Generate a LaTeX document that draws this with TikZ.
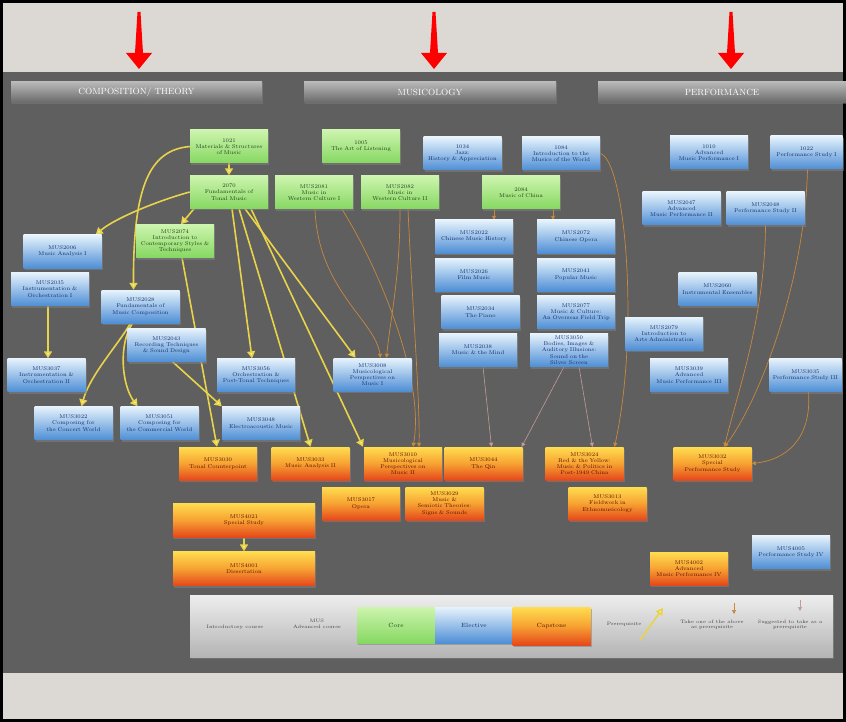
\documentclass[tikz,border=0pt]{standalone}
\usepackage{tikz}
\usetikzlibrary{arrows.meta,shadows}

\definecolor{bandgray}{HTML}{DCD9D4}
\definecolor{boardgray}{HTML}{5F5F5F}
\definecolor{coretop}{HTML}{CDF4AE}
\definecolor{corebot}{HTML}{86D862}
\definecolor{coretext}{HTML}{24401A}
\definecolor{eltop}{HTML}{E6F3FC}
\definecolor{elbot}{HTML}{4F8FD6}
\definecolor{eltext}{HTML}{16306E}
\definecolor{captop}{HTML}{FFDD50}
\definecolor{capmid}{HTML}{F7A232}
\definecolor{capbot}{HTML}{E5481B}
\definecolor{captext}{HTML}{5A1400}
\definecolor{linkyellow}{HTML}{E8D44A}
\definecolor{tipyellow}{HTML}{F4F0A8}
\definecolor{linkorange}{HTML}{C8893C}
\definecolor{linkpink}{HTML}{C49A9A}
\definecolor{barlight}{HTML}{B8B8B8}
\definecolor{bardark}{HTML}{686868}
\definecolor{legtop}{HTML}{EEEEEE}
\definecolor{legbot}{HTML}{B4B4B4}

\pgfdeclarelayer{background}
\pgfsetlayers{background,main}

\tikzset{
  course/.style={minimum width=78pt, minimum height=33pt, text width=76pt, inner sep=1pt,
    align=center, font=\fontsize{5.5}{6.2}\selectfont,
    drop shadow={shadow xshift=1pt, shadow yshift=-2pt, opacity=0.55}},
  core/.style={course, top color=coretop, bottom color=corebot, text=coretext},
  elective/.style={course, top color=eltop, bottom color=elbot, text=eltext},
  capstone/.style={course, top color=captop, bottom color=capbot, middle color=capmid, text=captext},
  prereq/.style={draw=linkyellow, line width=1.6pt, -{Triangle[width=8pt,length=7pt,fill=tipyellow]}},
  oneof/.style={draw=linkorange, line width=0.7pt, -{Triangle[width=4pt,length=4pt]}},
  suggest/.style={draw=linkpink, line width=0.6pt, -{Triangle[width=4pt,length=4pt]}},
  areabar/.style={top color=barlight, bottom color=bardark, minimum height=21pt, inner sep=0pt,
    text=white, font=\fontsize{9}{9}\selectfont,
    drop shadow={shadow xshift=1pt, shadow yshift=-1.5pt, opacity=0.5}},
  legtext/.style={align=center, text=black!75, font=\fontsize{4.8}{5.4}\selectfont}
}

\begin{document}
\begin{tikzpicture}[x=1pt,y=-1pt]
    \useasboundingbox (0,0) rectangle (846,722);
    \begin{pgfonlayer}{background}
        \fill [black] (0,0) rectangle (846,722);
        \fill [bandgray] (3,3) rectangle (843,72);
        \fill [boardgray] (3,72) rectangle (843,673);
        \fill [bandgray] (3,673) rectangle (843,719);
    \end{pgfonlayer}

    \foreach \x in {139,434,731}
        \fill [red] ({\x-1.5},12) -- ({\x+1.5},12) -- ({\x+4},53) -- ({\x+13},53) -- (\x,69)
            -- ({\x-13},53) -- ({\x-4},53) -- cycle;

    \node [areabar, minimum width=251pt] (compbar) at (136.5,92.5) {COMPOSITION/ THEORY};
    \node [areabar, minimum width=252pt] (musbar) at (430,92.5) {MUSICOLOGY};
    \node [areabar, minimum width=248pt] (perfbar) at (722,92.5) {PERFORMANCE};

    \node [core] (n1021) at (229,146.5) {1021\\Materials \& Structures\\of Music};
    \node [core] (n2070) at (229,192) {2070\\Fundamentals of\\Tonal Music};
    \node [core] (mus2074) at (175,241) {MUS2074\\Introduction to\\Contemporary Styles \&\\Techniques};
    \node [elective] (mus2006) at (62.5,251.5) {MUS2006\\Music Analysis I};
    \node [elective] (mus2035) at (50,289) {MUS2035\\Instrumentation \&\\Orchestration I};
    \node [elective] (mus2028) at (140.5,306.5) {MUS2028\\Fundamentals of\\Music Composition};
    \node [elective] (mus2043) at (166.5,345) {MUS2043\\Recording Techniques\\\& Sound Design};
    \node [elective] (mus3037) at (46.5,375) {MUS3037\\Instrumentation \&\\Orchestration II};
    \node [elective] (mus3022) at (73.5,423) {MUS3022\\Composing for\\the Concert World};
    \node [elective] (mus3051) at (159.5,423) {MUS3051\\Composing for\\the Commercial World};
    \node [elective] (mus3056) at (256,375) {MUS3056\\Orchestration \&\\Post-Tonal Techniques};
    \node [elective] (mus3048) at (261,423) {MUS3048\\Electroacoustic Music};
    \node [capstone] (mus3030) at (218,463.5) {MUS3030\\Tonal Counterpoint};
    \node [capstone] (mus3033) at (310.5,463.5) {MUS3033\\Music Analysis II};
    \node [capstone, minimum width=142pt, minimum height=34pt] (mus4021) at (244,520) {MUS4021\\Special Study};
    \node [capstone, minimum width=142pt, minimum height=34pt] (mus4001) at (244,568.5) {MUS4001\\Dissertation};

    \node [core] (n1005) at (361,146.5) {1005\\The Art of Listening};
    \node [core] (mus2081) at (314,192.5) {MUS2081\\Music in\\Western Culture I};
    \node [core] (mus2082) at (400,192.5) {MUS2082\\Music in\\Western Culture II};
    \node [elective] (n1034) at (462.5,153.5) {1034\\Jazz:\\History \& Appreciation};
    \node [elective] (n1084) at (561,153.5) {1084\\Introduction to the\\Musics of the World};
    \node [core] (n2084) at (521,192.5) {2084\\Music of China};
    \node [elective] (mus2022) at (474,236.5) {MUS2022\\Chinese Music History};
    \node [elective] (mus2072) at (576,236.5) {MUS2072\\Chinese Opera};
    \node [elective] (mus2026) at (474,274.5) {MUS2026\\Film Music};
    \node [elective] (mus2041) at (576,274.5) {MUS2041\\Popular Music};
    \node [elective] (mus2034) at (480.5,312) {MUS2034\\The Piano};
    \node [elective] (mus2077) at (576,312) {MUS2077\\Music \& Culture:\\An Overseas Field Trip};
    \node [elective] (mus2038) at (478,350) {MUS2038\\Music \& the Mind};
    \node [elective] (mus3050) at (569,350) {MUS3050\\Bodies, Images \&\\Auditory Illusions:\\Sound on the Silver Screen};
    \node [elective] (mus3008) at (372.5,374.5) {MUS3008\\Musicological\\Perspectives on\\Music I};
    \node [capstone] (mus3010) at (403,463.5) {MUS3010\\Musicological\\Perspectives on\\Music II};
    \node [capstone] (mus3044) at (483.5,463.5) {MUS3044\\The Qin};
    \node [capstone] (mus3024) at (584.5,463.5) {MUS3024\\Red \& the Yellow:\\Music \& Politics in\\Post-1949 China};
    \node [capstone] (mus3017) at (361,503.5) {MUS3017\\Opera};
    \node [capstone] (mus3029) at (444.5,503.5) {MUS3029\\Music \&\\Semiotic Theories:\\Signs \& Sounds};
    \node [capstone] (mus3013) at (607.5,503.5) {MUS3013\\Fieldwork in\\Ethnomusicology};

    \node [elective] (n1010) at (709,152.5) {1010\\Advanced\\Music Performance I};
    \node [elective, minimum width=72pt, text width=70pt] (n1022) at (806.5,152.5) {1022\\Performance Study I};
    \node [elective] (mus2047) at (681.5,208.5) {MUS2047\\Advanced\\Music Performance II};
    \node [elective] (mus2048) at (765.5,208.5) {MUS2048\\Performance Study II};
    \node [elective] (mus2060) at (717.5,289) {MUS2060\\Instrumental Ensembles};
    \node [elective] (mus2079) at (664,333.5) {MUS2079\\Introduction to\\Arts Administration};
    \node [elective] (mus3039) at (689,375) {MUS3039\\Advanced\\Music Performance III};
    \node [elective, minimum width=72pt, text width=70pt] (mus3035) at (805.5,375) {MUS3035\\Performance Study III};
    \node [capstone] (mus3032) at (712.5,463.5) {MUS3032\\Special\\Performance Study};
    \node [capstone] (mus4002) at (689,568.5) {MUS4002\\Advanced\\Music Performance IV};
    \node [elective] (mus4005) at (791,552) {MUS4005\\Performance Study IV};

    \node [top color=legtop, bottom color=legbot, minimum width=643pt, minimum height=62pt,
        drop shadow={shadow xshift=1pt, shadow yshift=-2pt, opacity=0.5}] (legend) at (511.5,626) {};
    \node [legtext] (legintro) at (235,627) {Introductory course};
    \node [legtext] (legadv) at (317,624) {MUS\\Advanced course};
    \node [core, minimum height=36pt, font=\fontsize{6}{7}\selectfont] (legcore) at (396,625) {Core};
    \node [elective, minimum height=36pt, font=\fontsize{6}{7}\selectfont] (legelect) at (474,625) {Elective};
    \node [capstone, minimum width=77pt, minimum height=38pt, font=\fontsize{6}{7}\selectfont] (legcap) at (551.5,626) {Capstone};
    \node [legtext] (legprereq) at (624,624) {Prerequisite};
    \node [legtext] (legoneof) at (712,625) {Take one of the above\\as prerequisite};
    \node [legtext] (legsuggest) at (790,625) {Suggested to take as a\\prerequisite};
    \coordinate (prereqa) at (640,640);
    \coordinate (prereqb) at (663,608);
    \coordinate (oneofa) at (734,603);
    \coordinate (oneofb) at (734,614);
    \coordinate (suggesta) at (800,600);
    \coordinate (suggestb) at (800,611);

    \begin{pgfonlayer}{background}
        \draw [prereq] (n1021.south) -- (n2070.north);
        \draw [prereq] (n1021.west) .. controls (150,150) and (133,185) .. ([xshift=-7pt]mus2028.north);
        \draw [prereq] (n2070.west) .. controls (160,200) and (115,218) .. ([xshift=-6pt]mus2006.north east);
        \draw [prereq] ([xshift=-35pt]n2070.south) -- ([xshift=6pt]mus2074.north);
        \draw [prereq] ([xshift=3pt]n2070.south) -- ([xshift=-4pt]mus3056.north);
        \draw [prereq] ([xshift=10pt]n2070.south) -- (mus3033.north);
        \draw [prereq] ([xshift=16pt]n2070.south) -- ([xshift=-17pt]mus3008.north);
        \draw [prereq] ([xshift=22pt]n2070.south) -- ([xshift=-40pt]mus3010.north);
        \draw [prereq] ([xshift=7pt]mus2074.south) -- ([xshift=-1pt]mus3030.north);
        \draw [prereq] ([xshift=-10pt]mus2028.south) .. controls (118,345) and (90,375) .. ([xshift=8pt]mus3022.north);
        \draw [prereq] ([xshift=-8pt]mus2028.south) .. controls (118,345) and (122,385) .. ([xshift=-22pt]mus3051.north);
        \draw [prereq] ([xshift=-2pt]mus2035.south) -- ([xshift=1.5pt]mus3037.north);
        \draw [prereq] ([xshift=6pt]mus2043.south) -- (mus3048.north west);
        \draw [prereq] (mus4021.south) -- (mus4001.north);

        \draw [oneof] ([xshift=1pt]mus2081.south) .. controls (318,290) and (375,320) .. ([xshift=8pt]mus3008.north);
        \draw [oneof] ([xshift=28pt]mus2081.south) .. controls (380,270) and (425,380) .. ([xshift=10pt]mus3010.north);
        \draw [oneof] (mus2082.south) .. controls (400,280) and (390,320) .. ([xshift=14pt]mus3008.north);
        \draw [oneof] ([xshift=8pt]mus2082.south) .. controls (412,300) and (420,400) .. ([xshift=16pt]mus3010.north);
        \draw [oneof] ([xshift=-27pt]n2084.south) -- ([xshift=20pt]mus2022.north);
        \draw [oneof] ([xshift=32pt]n2084.south) -- ([xshift=-23pt]mus2072.north);
        \draw [oneof] (n1084.east) .. controls (625,160) and (640,330) .. ([xshift=30pt]mus3024.north);
        \draw [oneof] ([xshift=1pt]n1022.south) .. controls (805,280) and (760,400) .. ([xshift=12pt]mus3032.north);
        \draw [oneof] (mus2048.south) .. controls (765,320) and (735,400) .. ([xshift=12pt]mus3032.north);
        \draw [oneof] ([xshift=3pt]mus3035.south) .. controls (812,440) and (785,460) .. (mus3032.east);

        \draw [suggest] ([xshift=5pt]mus2038.south) -- ([xshift=8pt]mus3044.north);
        \draw [suggest] ([xshift=-5pt]mus3050.south) -- ([xshift=-1pt]mus3044.north east);
        \draw [suggest] ([xshift=10pt]mus3050.south) -- ([xshift=8pt]mus3024.north);
    \end{pgfonlayer}

    \draw [prereq] (prereqa) -- (prereqb);
    \draw [oneof] (oneofa) -- (oneofb);
    \draw [suggest] (suggesta) -- (suggestb);
\end{tikzpicture}
\end{document}
